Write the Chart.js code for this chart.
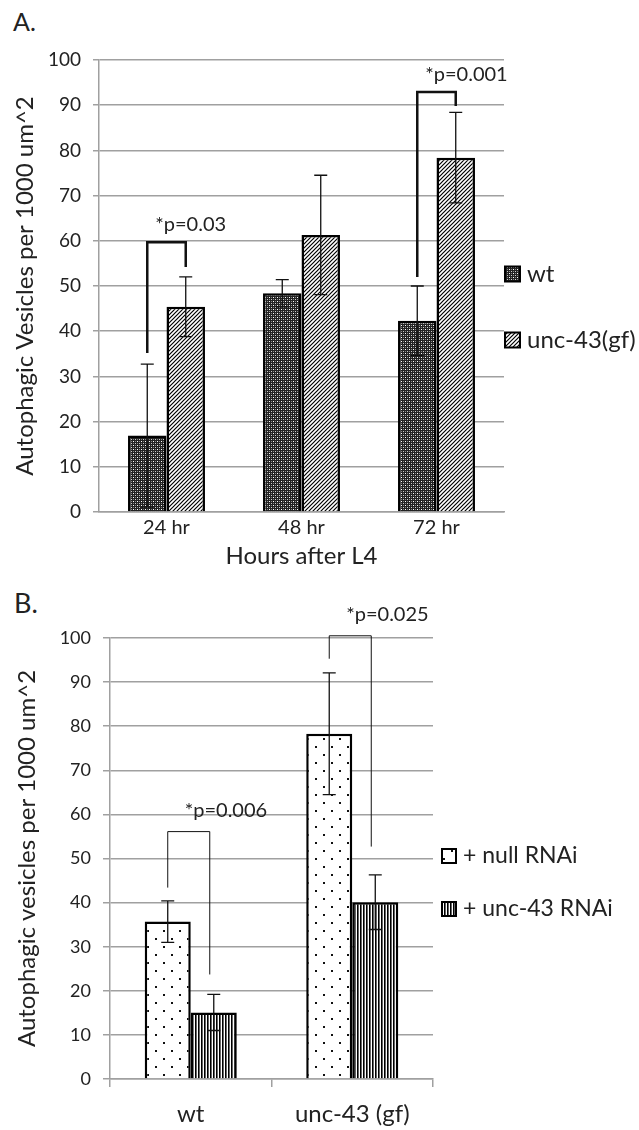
<!DOCTYPE html>
<html>
<head>
<meta charset="utf-8">
<script src="https://cdn.jsdelivr.net/npm/chart.js@4"></script>
<style>
body { margin:0; background:#fff; width:639px; height:1130px; position:relative; overflow:hidden; }
#chartA { position:absolute; left:0; top:0; }
#chartB { position:absolute; left:0; top:575px; }
.panel { position:absolute; font-family:Lato, sans-serif; color:#222; line-height:1; }
</style>
</head>
<body>
<div class="panel" style="left:13px;top:9px;font-size:25px">A.</div>
<canvas id="chartA" width="639" height="575"></canvas>
<div class="panel" style="left:14px;top:589px;font-size:27px">B.</div>
<canvas id="chartB" width="639" height="555"></canvas>
<script>
// panel A: hours after L4
var hoursLabels = ['24 hr', '48 hr', '72 hr'];
var wtMeans = [16.9, 48.4, 42.3];
var wtErrors = [15.8, 3, 7.7];
var gfMeans = [45.4, 61.3, 78.4];
var gfErrors = [6.6, 13.2, 10];

var sigIndexA = [0, 2];
var sigTopA = [59.7, 92.9];
var sigLeftEndA = [35.2, 52];
var sigRightEndA = [54.2, 89.8];
var sigTextA = ['*p=0.03', '*p=0.001'];

// panel B: RNAi
var strainLabels = ['wt', 'unc-43 (gf)'];
var nullMeans = [35.7, 78.3];
var nullErrors = [4.7, 13.8];
var rnaiMeans = [15.1, 40.1];
var rnaiErrors = [4.1, 6.2];

var sigIndexB = [0, 1];
var sigTopB = [56.1, 100.5];
var sigLeftEndB = [43.4, 95.3];
var sigRightEndB = [23.7, 52.7];
var sigTextB = ['*p=0.006', '*p=0.025'];

var textColor = '#222';
var gridColor = '#a0a0a0';

function makePattern(w, h, draw) {
  var c = document.createElement('canvas');
  c.width = w; c.height = h;
  var g = c.getContext('2d');
  g.fillStyle = '#fff';
  g.fillRect(0, 0, w, h);
  draw(g);
  return g.createPattern(c, 'repeat');
}

var meshPattern = makePattern(4, 4, function (g) {
  g.fillStyle = '#222'; g.fillRect(0, 0, 4, 4);
  g.fillStyle = '#fff'; g.fillRect(1, 1, 1, 1);
  g.fillStyle = '#ccc'; g.fillRect(3, 3, 1, 1);
  g.fillStyle = '#888'; g.fillRect(3, 1, 1, 1); g.fillRect(1, 3, 1, 1);
});
var hatchPattern = makePattern(4, 4, function (g) {
  g.strokeStyle = '#000'; g.lineWidth = 1.2;
  g.beginPath();
  g.moveTo(0, 4); g.lineTo(4, 0);
  g.moveTo(-1, 1); g.lineTo(1, -1);
  g.moveTo(3, 5); g.lineTo(5, 3);
  g.stroke();
});
var dotPattern = makePattern(16, 16, function (g) {
  g.fillStyle = '#111';
  g.fillRect(3, 3, 2, 2);
  g.fillRect(11, 11, 2, 2);
});
var stripePattern = makePattern(3, 3, function (g) {
  g.fillStyle = '#000'; g.fillRect(0, 0, 1, 3);
  g.fillStyle = '#666'; g.fillRect(1, 0, 1, 3);
});

var errorBars = {
  id: 'errorBars',
  afterDatasetsDraw: function (chart, args, opts) {
    var ctx = chart.ctx, y = chart.scales.y;
    chart.data.datasets.forEach(function (ds, i) {
      chart.getDatasetMeta(i).data.forEach(function (bar, j) {
        var hi = y.getPixelForValue(ds.data[j] + ds.errors[j]);
        var lo = y.getPixelForValue(ds.data[j] - ds.errors[j]);
        var half = opts.cap / 2;
        ctx.save();
        ctx.strokeStyle = '#111';
        ctx.lineWidth = opts.width;
        ctx.beginPath();
        ctx.moveTo(bar.x, hi); ctx.lineTo(bar.x, lo);
        ctx.moveTo(bar.x - half, hi); ctx.lineTo(bar.x + half, hi);
        ctx.moveTo(bar.x - half, lo); ctx.lineTo(bar.x + half, lo);
        ctx.stroke();
        ctx.restore();
      });
    });
  }
};

var sigBrackets = {
  id: 'sigBrackets',
  afterDatasetsDraw: function (chart, args, opts) {
    var ctx = chart.ctx, y = chart.scales.y;
    var left = chart.getDatasetMeta(0).data, right = chart.getDatasetMeta(1).data;
    opts.index.forEach(function (idx, k) {
      var x1 = left[idx].x, x2 = right[idx].x + opts.rightShift;
      var top = y.getPixelForValue(opts.top[k]);
      ctx.save();
      ctx.strokeStyle = '#111';
      ctx.lineWidth = opts.width;
      ctx.beginPath();
      ctx.moveTo(x1, y.getPixelForValue(opts.leftEnd[k]));
      ctx.lineTo(x1, top);
      ctx.lineTo(x2, top);
      ctx.lineTo(x2, y.getPixelForValue(opts.rightEnd[k]));
      ctx.stroke();
      ctx.fillStyle = textColor;
      ctx.font = opts.font;
      ctx.textAlign = 'left';
      ctx.textBaseline = 'middle';
      ctx.fillText(opts.text[k], x1 + opts.dx, top - opts.dy);
      ctx.restore();
    });
  }
};

var sideLegend = {
  id: 'sideLegend',
  afterDraw: function (chart, args, opts) {
    var ctx = chart.ctx;
    chart.data.datasets.forEach(function (ds, i) {
      var cy = opts.y + i * opts.gap;
      ctx.save();
      ctx.fillStyle = ds.backgroundColor;
      ctx.fillRect(opts.x, cy - opts.box / 2, opts.box, opts.box);
      ctx.lineWidth = 2;
      ctx.strokeStyle = '#000';
      ctx.strokeRect(opts.x, cy - opts.box / 2, opts.box, opts.box);
      ctx.fillStyle = textColor;
      ctx.font = opts.font;
      ctx.textBaseline = 'middle';
      ctx.fillText(ds.label, opts.textX, cy);
      ctx.restore();
    });
  }
};

function yAxis(width, tickSize, tickLen, titleText, titlePad) {
  return {
    min: 0, max: 100,
    ticks: { stepSize: 10, color: textColor, font: { family: 'Lato', size: tickSize }, padding: 12 },
    grid: { color: gridColor, lineWidth: 1.5, tickLength: tickLen },
    border: { color: gridColor, width: 1.5 },
    title: { display: true, text: titleText, color: textColor,
             font: { family: 'Lato', size: 24 }, padding: { top: titlePad, bottom: 0 } },
    afterFit: function (scale) { scale.width = width; }
  };
}

new Chart(document.getElementById('chartA').getContext('2d'), {
  type: 'bar',
  data: {
    labels: hoursLabels,
    datasets: [
      { label: 'wt', data: wtMeans, errors: wtErrors, backgroundColor: meshPattern,
        borderColor: '#000', borderWidth: 2.5 },
      { label: 'unc-43(gf)', data: gfMeans, errors: gfErrors, backgroundColor: hatchPattern,
        borderColor: '#000', borderWidth: 2.5 }
    ]
  },
  options: {
    responsive: false,
    animation: false,
    devicePixelRatio: 1,
    layout: { padding: { top: 60, right: 135, left: 0, bottom: 0 } },
    categoryPercentage: 0.57,
    barPercentage: 1,
    plugins: {
      legend: { display: false },
      tooltip: { enabled: false },
      errorBars: { width: 1.3, cap: 13 },
      sigBrackets: { index: sigIndexA, top: sigTopA, leftEnd: sigLeftEndA, rightEnd: sigRightEndA,
                     text: sigTextA, width: 2.5, dx: 8, dy: 18, rightShift: 0, font: '20px Lato' },
      sideLegend: { x: 505, y: 274, gap: 66, box: 15, textX: 527, font: '24px Lato' }
    },
    scales: {
      x: {
        grid: { display: false, drawTicks: false },
        border: { color: gridColor, width: 1.5 },
        ticks: { color: textColor, font: { family: 'Lato', size: 20 }, padding: 4 },
        title: { display: true, text: 'Hours after L4', color: textColor,
                 font: { family: 'Lato', size: 24 }, padding: { top: 0, bottom: 4 } },
        afterFit: function (scale) { scale.height = 63; }
      },
      y: yAxis(99, 19, 6, 'Autophagic Vesicles per 1000 um^2', 11)
    }
  },
  plugins: [errorBars, sigBrackets, sideLegend]
});

new Chart(document.getElementById('chartB').getContext('2d'), {
  type: 'bar',
  data: {
    labels: strainLabels,
    datasets: [
      { label: '+ null RNAi', data: nullMeans, errors: nullErrors, backgroundColor: dotPattern,
        borderColor: '#000', borderWidth: 2.5 },
      { label: '+ unc-43 RNAi', data: rnaiMeans, errors: rnaiErrors, backgroundColor: stripePattern,
        borderColor: '#000', borderWidth: 2.5 }
    ]
  },
  options: {
    responsive: false,
    animation: false,
    devicePixelRatio: 1,
    layout: { padding: { top: 63, right: 206, left: 0, bottom: 0 } },
    categoryPercentage: 0.57,
    barPercentage: 1,
    plugins: {
      legend: { display: false },
      tooltip: { enabled: false },
      errorBars: { width: 1.3, cap: 13 },
      sigBrackets: { index: sigIndexB, top: sigTopB, leftEnd: sigLeftEndB, rightEnd: sigRightEndB,
                     text: sigTextB, width: 1, dx: 17, dy: 21, rightShift: -4, font: '20px Lato' },
      sideLegend: { x: 442, y: 281, gap: 53, box: 14, textX: 463, font: '23px Lato' }
    },
    scales: {
      x: {
        grid: { drawOnChartArea: false, drawTicks: true, tickLength: 8, color: gridColor, lineWidth: 1.5 },
        border: { color: gridColor, width: 1.5 },
        ticks: { color: textColor, font: { family: 'Lato', size: 24 }, padding: 13 },
        afterFit: function (scale) { scale.height = 51; }
      },
      y: yAxis(110, 18, 7, 'Autophagic vesicles per 1000 um^2', 13)
    }
  },
  plugins: [errorBars, sigBrackets, sideLegend]
});
</script>
</body>
</html>
